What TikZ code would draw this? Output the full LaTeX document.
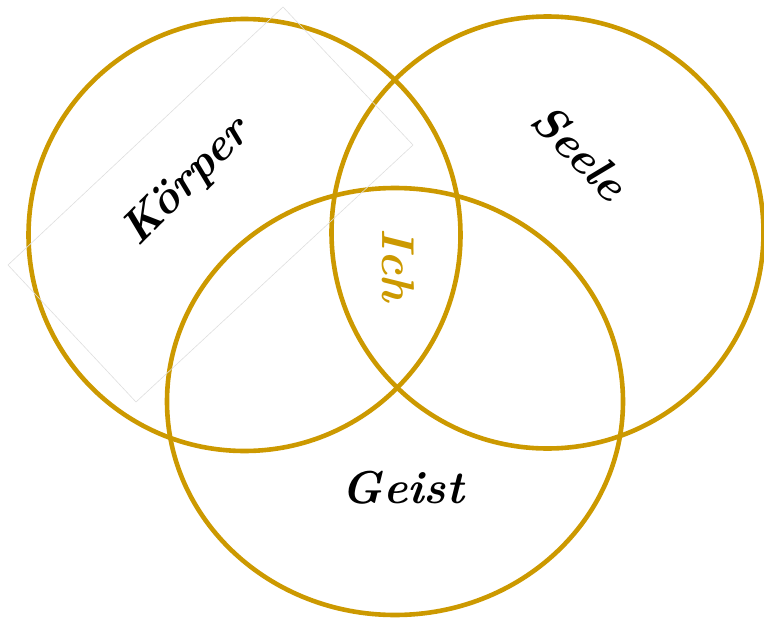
\documentclass[tikz,border=0pt]{standalone}
\usepackage{fontspec}
\usepackage{tikz}
\usetikzlibrary{positioning,calc}
\definecolor{RingGold}{RGB}{204,153,0}
\definecolor{FrameGray}{RGB}{222,222,222}

\begin{document}
\begin{tikzpicture}[
  x=1pt, y=-1pt,
  ring/.style={draw=RingGold, line width=4.6pt},
  word/.style={font=\fontsize{46}{46}\selectfont\bfseries\itshape, inner sep=0pt},
  frame/.style={draw=FrameGray, line width=0.6pt}
]
  \useasboundingbox (0,0) rectangle (764,621);

  % rings
  \coordinate (ck) at (244.5,235);
  \coordinate (cs) at (547.5,232.5);
  \coordinate (cg) at (395,401.5);
  \draw[ring] (ck) circle (216);
  \draw[ring] (cs) circle (216);
  \draw[ring] (cg) ellipse (228 and 213.5);

  % faint frame round the first word
  \draw[frame] (283,7) -- (413,145) -- (136,402) -- (8,265) -- cycle;

  % words
  \node[word, rotate=45]  (koerper) at (187,183) {Körper};
  \node[word, rotate=-45] (seele)   at (580,152) {Seele};
  \node[word, rotate=-90, text=RingGold] (ich) at (398,265) {Ich};
  \node[word] (geist) at (403,488) {Geist};
\end{tikzpicture}
\end{document}
